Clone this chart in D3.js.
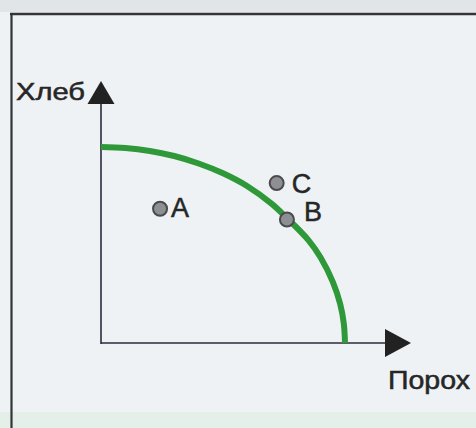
<!DOCTYPE html>
<html>
<head>
<meta charset="utf-8">
<script src="https://cdn.jsdelivr.net/npm/d3@7"></script>
<style>
  html, body { margin: 0; padding: 0; background: #eef1f4; }
  svg { display: block; }
</style>
</head>
<body>
<svg id="chart" width="476" height="428"></svg>
<script>
// Production possibilities: bread vs gunpowder
const axisTitles = ["Порох", "Хлеб"];

// Frontier, as (gunpowder, bread) pairs
const frontierGunpowder = [0, 1, 2, 3, 4, 5, 6, 7, 7.6, 8.5, 9, 9.5, 9.8, 9.95, 10];
const frontierBread     = [10, 9.95, 9.8, 9.54, 9.16, 8.66, 8.0, 7.1, 6.4, 5.25, 4.36, 3.12, 2.0, 1.0, 0];

// Labelled combinations
const pointNames     = ["A", "C", "B"];
const pointGunpowder = [2.42, 7.2, 7.62];
const pointBread     = [6.85, 8.16, 6.3];

const svg = d3.select("#chart");
const W = 476, H = 428;

const x = d3.scaleLinear().domain([0, 10]).range([101, 345]);
const y = d3.scaleLinear().domain([0, 10]).range([343, 147]);

// page background and frame
svg.append("rect").attr("width", W).attr("height", H).attr("fill", "#eff2f5");
svg.append("rect").attr("x", 0).attr("y", 0).attr("width", W).attr("height", 12)
  .attr("fill", "#e2e5e8");
svg.append("rect").attr("x", 0).attr("y", 412).attr("width", W).attr("height", 16)
  .attr("fill", "#e4efea");
svg.append("line").attr("x1", 10).attr("x2", W).attr("y1", 14).attr("y2", 14)
  .attr("stroke", "#333338").attr("stroke-width", 2.6);
svg.append("line").attr("x1", 11.5).attr("x2", 11.5).attr("y1", 13).attr("y2", H)
  .attr("stroke", "#333338").attr("stroke-width", 2.2);

// axes with arrowheads
const x0 = x(0), y0 = y(0);
const axisColor = "#2c2a3c";
svg.append("line").attr("x1", x0).attr("x2", x0).attr("y1", y0 + 1).attr("y2", 102)
  .attr("stroke", axisColor).attr("stroke-width", 1.6);
svg.append("line").attr("x1", x0).attr("x2", 387).attr("y1", y0).attr("y2", y0)
  .attr("stroke", axisColor).attr("stroke-width", 1.6);
svg.append("path").attr("d", `M${x0},81 L${x0 + 13.5},104 L${x0 - 13.5},104 Z`).attr("fill", "#222");
svg.append("path").attr("d", `M411,${y0} L385,${y0 - 14} L385,${y0 + 14} Z`).attr("fill", "#222");

// frontier curve
const pts = frontierGunpowder.map((g, i) => [g, frontierBread[i]]);
svg.append("path")
  .datum(pts)
  .attr("d", d3.line().x(d => x(d[0])).y(d => y(d[1])).curve(d3.curveCatmullRom.alpha(0.5)))
  .attr("fill", "none")
  .attr("stroke", "#2f993a")
  .attr("stroke-width", 6)
  .attr("stroke-linecap", "butt");

// points
const pointData = pointNames.map((n, i) => ({ name: n, g: pointGunpowder[i], b: pointBread[i] }));
svg.selectAll("circle.pt").data(pointData).enter().append("circle")
  .attr("class", "pt")
  .attr("cx", d => x(d.g)).attr("cy", d => y(d.b)).attr("r", 7)
  .attr("fill", "#8d8f92").attr("stroke", "#4a4a4e").attr("stroke-width", 2);

const textStyle = sel => sel
  .attr("font-family", "Liberation Sans, Arial, sans-serif")
  .attr("fill", "#262626")
  .attr("stroke", "#262626")
  .attr("stroke-width", 0.5);

const labelOffset = { A: [11, 8], C: [15, 10], B: [17, 1] };
svg.selectAll("text.pt").data(pointData).enter().append("text")
  .attr("class", "pt")
  .attr("x", d => x(d.g) + labelOffset[d.name][0])
  .attr("y", d => y(d.b) + labelOffset[d.name][1])
  .attr("font-size", 27)
  .call(textStyle)
  .text(d => d.name);

// axis titles
svg.append("text").attr("x", 388).attr("y", 389)
  .attr("font-size", 25)
  .attr("textLength", 82).attr("lengthAdjust", "spacingAndGlyphs")
  .call(textStyle).text(axisTitles[0]);
svg.append("text").attr("x", 16).attr("y", 100)
  .attr("font-size", 24)
  .attr("textLength", 69).attr("lengthAdjust", "spacingAndGlyphs")
  .call(textStyle).text(axisTitles[1]);
</script>
</body>
</html>
